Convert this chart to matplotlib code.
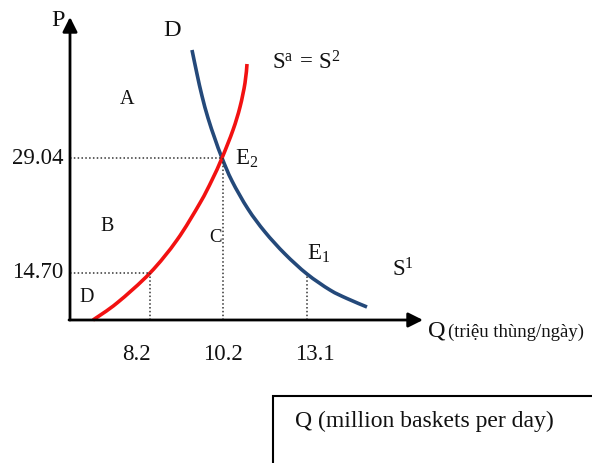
import matplotlib
matplotlib.use("Agg")
import matplotlib.pyplot as plt
from matplotlib.patches import Rectangle, PathPatch
from matplotlib.path import Path

plt.rcParams['font.family'] = ['Liberation Serif', 'DejaVu Serif']
plt.rcParams['mathtext.fontset'] = 'custom'
plt.rcParams['mathtext.rm'] = 'Liberation Serif'
plt.rcParams['mathtext.it'] = 'Liberation Serif'

# ---- data (diagram units: origin at the axes corner) ----
demand_x = [122, 127, 132, 138, 145, 152, 162, 178, 195, 215, 237, 260, 277, 297]
demand_y = [270, 246, 224, 202, 181, 162, 139, 111, 88, 66, 46, 30, 21.5, 13]
supply_x = [23, 47, 80, 107, 130, 142, 152, 163, 170, 175, 177]
supply_y = [0, 17, 47, 80, 117, 140, 162, 190, 213, 237, 256]

q_labels = ["8.2", "10.2", "13.1"]
p_labels = ["29.04", "14.70"]

# ---- layout ----
q_pos = [80, 153, 237]          # x positions of quantity guide lines
q_text_x = [66, 153, 245]       # x positions of quantity labels
p_pos = [162, 47]               # y positions of price guide lines
q_top = [47, 162, 46]           # top of vertical guide lines
p_right = [152, 80]             # end of horizontal guide lines


def smooth_path(xs, ys):
    """Cubic Bezier path through the given points (Catmull-Rom handles)."""
    pts = list(zip(xs, ys))
    n = len(pts)
    verts = [pts[0]]
    codes = [Path.MOVETO]
    for i in range(n - 1):
        p0 = pts[i - 1] if i > 0 else pts[i]
        p1 = pts[i]
        p2 = pts[i + 1]
        p3 = pts[i + 2] if i + 2 < n else pts[i + 1]
        c1 = (p1[0] + (p2[0] - p0[0]) / 6, p1[1] + (p2[1] - p0[1]) / 6)
        c2 = (p2[0] - (p3[0] - p1[0]) / 6, p2[1] - (p3[1] - p1[1]) / 6)
        verts += [c1, c2, p2]
        codes += [Path.CURVE4] * 3
    return Path(verts, codes)


fig = plt.figure(figsize=(5.92, 4.63), dpi=100)
ax = fig.add_axes([0, 0, 1, 1])
ax.set_xlim(-70, 522)
ax.set_ylim(-143, 320)
ax.axis('off')

# axes with arrows
arrow = dict(arrowstyle='-|>', lw=2, color='black', mutation_scale=22,
             shrinkA=0, shrinkB=0)
ax.annotate('', xy=(0, 303), xytext=(0, 0), arrowprops=arrow)
ax.annotate('', xy=(353, 0), xytext=(-1, 0), arrowprops=arrow)

# guide lines
for x, top in zip(q_pos, q_top):
    ax.plot([x, x], [0, top], color='#333333', lw=1.1, ls=(0, (1, 1.5)))
for y, right in zip(p_pos, p_right):
    ax.plot([0, right], [y, y], color='#333333', lw=1.1, ls=(0, (1, 1.5)))

# curves
ax.add_patch(PathPatch(smooth_path(demand_x, demand_y), fill=False,
                       edgecolor='#24497a', lw=2.6, capstyle='butt'))
ax.add_patch(PathPatch(smooth_path(supply_x, supply_y), fill=False,
                       edgecolor='#f21111', lw=2.6, capstyle='butt'))

fs = 16.5
txt = dict(fontsize=fs, color='#111111')
small = dict(fontsize=14.5, color='#111111')
ax.text(-12, 299, 'P', ha='center', va='center', fontsize=17.5, color='#111111')
ax.text(102, 289, 'D', ha='center', va='center', fontsize=17.5, color='#111111')
ax.text(202, 257, r'$\mathrm{S^{a}\,=\,S^{2}}$', ha='left', va='center', **txt)
ax.text(57, 221, 'A', ha='center', va='center', **small)
ax.text(37, 93, 'B', ha='center', va='center', **small)
ax.text(145, 82, 'C', ha='center', va='center', fontsize=13.5, color='#111111')
ax.text(17, 22, 'D', ha='center', va='center', **small)
ax.text(165, 161, r'$\mathrm{E_{2}}$', ha='left', va='center', **txt)
ax.text(237, 66, r'$\mathrm{E_{1}}$', ha='left', va='center', **txt)
ax.text(322, 50, r'$\mathrm{S^{1}}$', ha='left', va='center', **txt)

for lab, y in zip(p_labels, p_pos):
    ax.text(-7, y, lab, ha='right', va='center', **txt)
for lab, x in zip(q_labels, q_text_x):
    ax.text(x, -35, lab, ha='center', va='center', **txt)

ax.text(358, -11, 'Q', ha='left', va='center', fontsize=17.5, color='#111111')
ax.text(378, -12, '(triệu thùng/ngày)', ha='left', va='center',
        fontsize=13.5, color='#111111')

# box
ax.add_patch(Rectangle((203, -150), 340, 74, fill=False, lw=1.5,
                       edgecolor='black'))
ax.text(225, -101, 'Q (million baskets per day)', ha='left', va='center',
        fontsize=17, color='#111111')

fig.savefig('out.png', dpi=100)
